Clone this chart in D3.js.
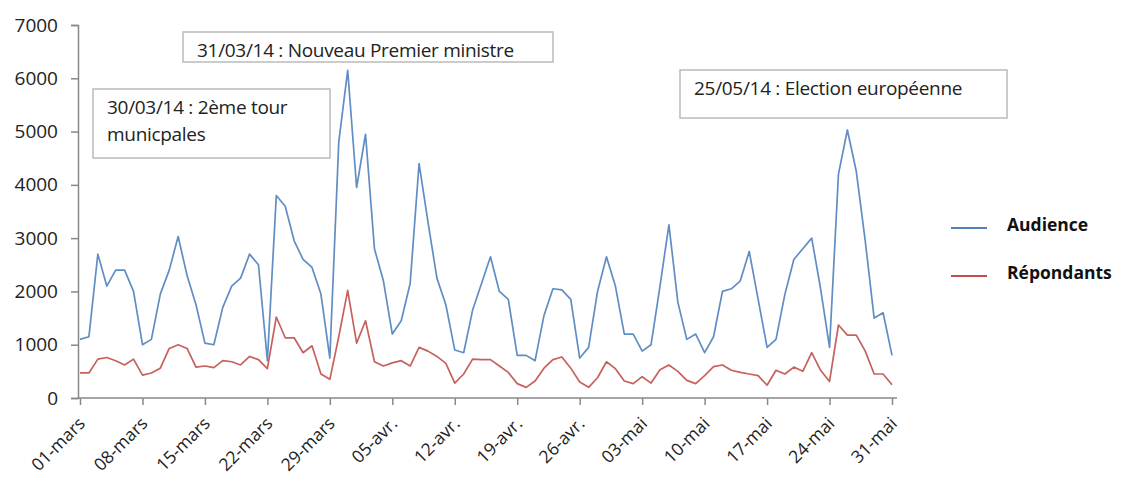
<!DOCTYPE html>
<meta charset="utf-8">
<script src="https://d3js.org/d3.v7.min.js"></script>
<style>
  body { margin: 0; background: #fff; }
  text { font-family: "Open Sans", "Liberation Sans", sans-serif; }
</style>
<div id="chart"></div>
<script>
  // daily values, 01 March -> 31 May 2014
  var audience = [
    1100, 1150, 2700, 2100, 2400, 2400, 2000,
    1000, 1100, 1950, 2400, 3030, 2300, 1750,
    1030, 1000, 1700, 2100, 2250, 2700, 2500,
    700, 3800, 3600, 2950, 2600, 2450, 1950,
    750, 4800, 6150, 3950, 4950, 2800, 2200,
    1200, 1450, 2150, 4400, 3300, 2250, 1750,
    900, 850, 1650, 2150, 2650, 2000, 1850,
    800, 800, 700, 1550, 2050, 2030, 1850,
    750, 950, 2000, 2650, 2100, 1200, 1200,
    880, 1000, 2100, 3250, 1800, 1100, 1200,
    850, 1150, 2000, 2050, 2200, 2750, 1850,
    950, 1100, 1950, 2600, 2800, 3000, 2050,
    950, 4200, 5030, 4250, 2950, 1500, 1600,
    800
  ];
  var repondants = [
    470, 470, 730, 760, 700, 620, 730,
    430, 470, 560, 930, 1000, 930, 580,
    600, 570, 700, 680, 620, 780, 720,
    550, 1520, 1130, 1130, 850, 980, 450,
    350, 1150, 2020, 1030, 1450, 680, 600,
    660, 700, 600, 950, 880, 780, 650,
    280, 450, 730, 720, 720, 600, 480,
    270, 200, 320, 560, 720, 770, 560,
    300, 200, 380, 680, 550, 320, 270,
    400, 280, 530, 620, 500, 330, 270,
    420, 590, 620, 520, 480, 450, 420,
    240, 520, 450, 580, 500, 850, 520,
    310, 1370, 1180, 1180, 880, 450, 450,
    250
  ];
  var tickLabels = ["01-mars", "08-mars", "15-mars", "22-mars", "29-mars", "05-avr.", "12-avr.",
                    "19-avr.", "26-avr.", "03-mai", "10-mai", "17-mai", "24-mai", "31-mai"];
  var yTicks = [0, 1000, 2000, 3000, 4000, 5000, 6000, 7000];
  var seriesNames = ["Audience", "Répondants"];
  var colors = ["#4f81bd", "#c0504d"];
  var notes = [
    {lines: ["30/03/14 : 2ème tour", "municpales"], x: 93, y: 89, w: 237, h: 69},
    {lines: ["31/03/14 : Nouveau Premier ministre"], x: 183, y: 32, w: 370, h: 30},
    {lines: ["25/05/14 : Election européenne"], x: 680, y: 70, w: 327, h: 48}
  ];

  var width = 1122, height = 485;
  var svg = d3.select("#chart").append("svg")
    .attr("width", width)
    .attr("height", height);

  var x = d3.scaleLinear().domain([0, 91]).range([80, 892]);
  var y = d3.scaleLinear().domain([0, 7000]).range([398, 25]);

  // Y axis
  var yAxis = svg.append("g")
    .attr("transform", "translate(78,0)")
    .call(d3.axisLeft(y).tickValues(yTicks).tickFormat(d3.format("d")).tickSize(7).tickPadding(13));
  yAxis.selectAll("text").style("font-size", "19px").attr("fill", "#222");

  // X axis
  var xAxis = svg.append("g")
    .attr("transform", "translate(0,398)")
    .call(d3.axisBottom(x)
      .tickValues(d3.range(0, 92, 7))
      .tickFormat(function(d, i) { return tickLabels[i]; })
      .tickSize(7)
      .tickSizeOuter(0));
  xAxis.select(".domain").attr("d", "M78,0H897");
  xAxis.selectAll("text")
    .style("font-size", "17.5px")
    .attr("fill", "#222")
    .attr("text-anchor", "end")
    .attr("transform", "translate(-3,18) rotate(-45)")
    .attr("dy", "0.7em")
    .attr("y", 0);

  svg.selectAll(".domain, .tick line").attr("stroke", "#888").attr("stroke-width", 1.5);

  // lines
  var line = d3.line()
    .x(function(d, i) { return x(i); })
    .y(function(d) { return y(d); });

  [audience, repondants].forEach(function(s, k) {
    svg.append("path")
      .datum(s)
      .attr("fill", "none")
      .attr("stroke", colors[k])
      .attr("stroke-width", 1.7)
      .attr("stroke-opacity", 0.9)
      .attr("stroke-linejoin", "round")
      .attr("d", line);
  });

  // annotation boxes
  notes.forEach(function(n) {
    var g = svg.append("g");
    g.append("rect")
      .attr("x", n.x).attr("y", n.y)
      .attr("width", n.w).attr("height", n.h)
      .attr("fill", "#fff")
      .attr("stroke", "#bbb")
      .attr("stroke-width", 1.5);
    n.lines.forEach(function(t, i) {
      g.append("text")
        .attr("x", n.x + 14)
        .attr("y", n.y + 25 + i * 27)
        .attr("fill", "#222")
        .style("font-size", "19px")
        .style("letter-spacing", "-0.3px")
        .text(t);
    });
  });

  // legend
  seriesNames.forEach(function(name, k) {
    var ly = 228 + k * 48;
    svg.append("line")
      .attr("x1", 951).attr("x2", 987)
      .attr("y1", ly).attr("y2", ly)
      .attr("stroke", colors[k])
      .attr("stroke-width", 1.8);
    svg.append("text")
      .attr("x", 1007).attr("y", ly + 1)
      .attr("dy", "0.1em")
      .style("font-size", "17.5px")
      .style("font-weight", "bold")
      .attr("fill", "#111")
      .text(name);
  });
</script>
